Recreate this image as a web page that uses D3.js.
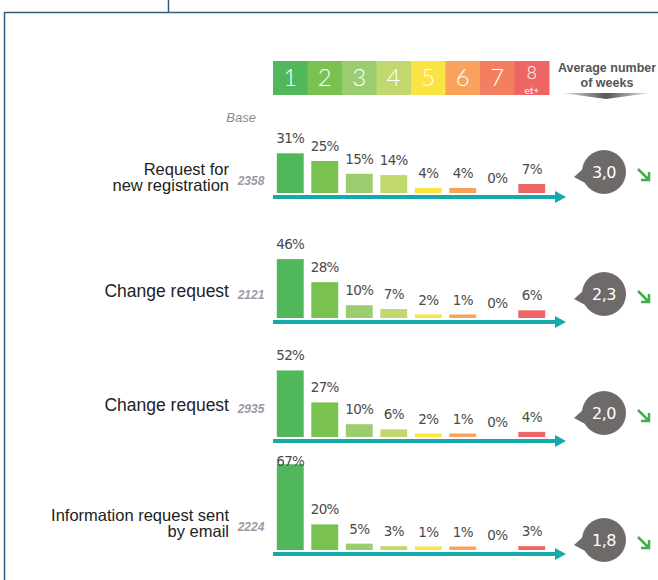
<!DOCTYPE html>
<html><head><meta charset="utf-8">
<script src="https://cdn.jsdelivr.net/npm/d3@7/dist/d3.min.js"></script>
<style>body{margin:0;background:#fff}svg{display:block}</style>
</head><body>
<script>
// ---- data ----
const weeks = ["1","2","3","4","5","6","7","8"];
const rowLabels = [["Request for","new registration"],["Change request"],["Change request"],["Information request sent","by email"]];
const bases = ["2358","2121","2935","2224"];
const shares = [
  [31,25,15,14,4,4,0,7],
  [46,28,10,7,2,1,0,6],
  [52,27,10,6,2,1,0,4],
  [67,20,5,3,1,1,0,3]
];
const averages = ["3,0","2,3","2,0","1,8"];

// ---- styles / layout ----
const colors = ["#50b85a","#7ac24f","#9ccc70","#c1d86f","#f9e443","#f8a25b","#f37f60","#ef6565"];
const layout = [
  {base:193, label:177, bubble:172},
  {base:318, label:291, bubble:294},
  {base:437, label:405, bubble:413},
  {base:550, label:523, bubble:540}
];
const W = 658, H = 580;
const svg = d3.select("body").append("svg").attr("width", W).attr("height", H);
const defs = svg.append("defs");
const gr = defs.append("linearGradient").attr("id","gArrow").attr("x1","0").attr("x2","1");
gr.append("stop").attr("offset","0").attr("stop-color","#e6e6e6");
gr.append("stop").attr("offset","0.5").attr("stop-color","#555");
gr.append("stop").attr("offset","1").attr("stop-color","#e6e6e6");

// frame
const frame = "#2e5f80";
svg.append("path").attr("d","M168.5,0V12.5M4.5,580V12.5H658").attr("fill","none").attr("stroke",frame).attr("stroke-width",1.5);

const x = d3.scaleBand().domain(weeks).range([273, 549]).paddingInner(0);
const xBar = d3.scaleBand().domain(weeks).range([273, 549]).paddingInner(0.22).paddingOuter(0.11);
const h = d3.scaleLinear().domain([0, 100]).range([0, 128]);
const bh = d => d === 0 ? 0 : Math.max(3.5, h(d));

// header boxes
const head = svg.append("g");
head.selectAll("rect").data(weeks).join("rect")
  .attr("x", d => x(d)).attr("y", 61).attr("width", x.bandwidth()+0.5).attr("height", 34)
  .attr("fill", (d,i) => colors[i]);
head.selectAll("text.num").data(weeks).join("text").attr("class","num")
  .attr("x", d => x(d) + x.bandwidth()/2)
  .attr("y", (d,i) => i === 7 ? 79 : 86)
  .attr("text-anchor","middle").attr("fill","#fff")
  .attr("font-family","Lato, 'DejaVu Sans', sans-serif").attr("font-weight",300)
  .attr("font-size", (d,i) => i === 7 ? 18 : 24).text(d => d);
head.append("text").attr("x", x("8") + x.bandwidth()/2).attr("y", 93.5).attr("text-anchor","middle")
  .attr("fill","#fff").attr("font-family","Lato, 'DejaVu Sans', sans-serif").attr("font-size",10).text("et+");

svg.append("text").attr("x",607).attr("y",72).attr("text-anchor","middle").attr("font-family","'Liberation Sans', Arial, sans-serif")
  .attr("font-weight","bold").attr("font-size",12.5).attr("fill","#555").text("Average number");
svg.append("text").attr("x",607).attr("y",87).attr("text-anchor","middle").attr("font-family","'Liberation Sans', Arial, sans-serif")
  .attr("font-weight","bold").attr("font-size",12.5).attr("fill","#555").text("of weeks");
svg.append("path").attr("d","M562,93L650,93L606,99Z").attr("fill","url(#gArrow)");

svg.append("text").attr("x",256).attr("y",122).attr("text-anchor","end").attr("font-family","'Liberation Sans', Arial, sans-serif")
  .attr("font-style","italic").attr("font-size",13).attr("fill","#8a8a8a").text("Base");

// rows
shares.forEach((vals, r) => {
  const L = layout[r];
  const g = svg.append("g");
  const lines = rowLabels[r];
  const lh = 16.5;
  lines.forEach((t, k) => {
    g.append("text").attr("x",229).attr("y", L.label + 6 + (k - (lines.length-1)/2) * lh)
      .attr("text-anchor","end").attr("font-family","'Liberation Sans', Arial, sans-serif")
      .attr("font-size", lines.length > 1 ? 16.5 : 17.5).attr("fill","#222").text(t);
  });
  g.append("text").attr("x",251).attr("y", L.label + 8).attr("text-anchor","middle")
    .attr("font-family","'Liberation Sans', Arial, sans-serif").attr("font-style","italic").attr("font-weight","bold")
    .attr("font-size",12).attr("fill","#9a9aa6").text(bases[r]);
  // bars
  g.selectAll("rect").data(vals).join("rect")
    .attr("x",(d,i)=>xBar(weeks[i])).attr("width", xBar.bandwidth())
    .attr("y", d => L.base - bh(d)).attr("height", d => bh(d))
    .attr("fill", (d,i) => colors[i]);
  g.selectAll("text.pct").data(vals).join("text").attr("class","pct")
    .attr("x",(d,i)=>xBar(weeks[i]) + xBar.bandwidth()/2)
    .attr("y", d => Math.max(L.base - bh(d) - 10, L.base - 84))
    .attr("text-anchor","middle").attr("font-family","'DejaVu Sans', sans-serif")
    .attr("font-size",13.5).attr("letter-spacing",-0.6).attr("fill","#4a4a4a").text(d => d + "%");
  // axis arrow
  const ay = L.base + 4;
  g.append("line").attr("x1",273).attr("x2",558).attr("y1",ay).attr("y2",ay).attr("stroke","#14a9ab").attr("stroke-width",4);
  g.append("path").attr("d",`M555,${ay-6}L566,${ay}L555,${ay+6}Z`).attr("fill","#14a9ab");
  // bubble
  const cx = 604, cy = L.bubble;
  g.append("path").attr("d",`M${cx-20},${cy-4}L${cx-30},${cy+5}L${cx-15},${cy+13}Z`).attr("fill","#6e6a6a");
  g.append("circle").attr("cx",cx).attr("cy",cy).attr("r",22).attr("fill","#6e6a6a");
  g.append("text").attr("x",cx).attr("y",cy+6).attr("text-anchor","middle").attr("fill","#fff")
    .attr("font-family","'DejaVu Sans', sans-serif").attr("font-size",16).attr("letter-spacing",-0.5).text(averages[r]);
  // trend arrow
  const ax = cx + 34, ayy = cy - 3;
  g.append("path").attr("d",`M${ax},${ayy}L${ax+11},${ayy+11}M${ax+3},${ayy+11}H${ax+11}V${ayy+3}`)
    .attr("fill","none").attr("stroke","#3fb04a").attr("stroke-width",2.5);
});
</script>
</body></html>
